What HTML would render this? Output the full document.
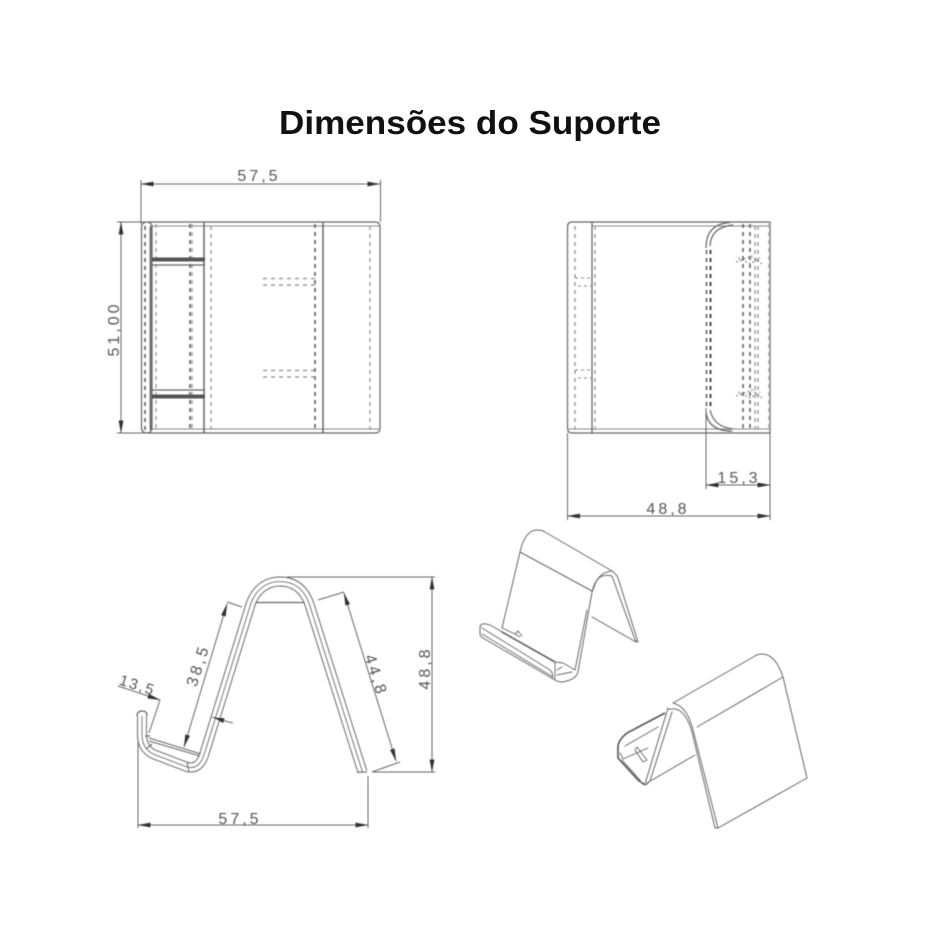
<!DOCTYPE html>
<html><head><meta charset="utf-8"><style>
html,body{margin:0;padding:0;background:#fff;width:940px;height:940px;overflow:hidden}
svg{display:block}
text{font-family:"Liberation Sans",sans-serif;fill:#555;font-size:16px;letter-spacing:3px;text-anchor:middle}
.s{fill:none;stroke:#666;stroke-width:1.2}
.t{fill:none;stroke:#888;stroke-width:.9}
.d{fill:none;stroke:#aaa;stroke-width:1.7;stroke-dasharray:4 4}
.k{fill:none;stroke:#666;stroke-width:1.7;stroke-dasharray:4 4}
.m{fill:none;stroke:#666;stroke-width:1}
.a{marker-start:url(#ar);marker-end:url(#ar)}
.e{marker-end:url(#ar)}
.i{fill:none;stroke:#666;stroke-width:1;stroke-linejoin:round;stroke-linecap:round}
</style></head><body>
<svg width="940" height="940" viewBox="0 0 940 940" xmlns="http://www.w3.org/2000/svg">
<defs>
<marker id="ar" viewBox="0 0 13 6" refX="12.500" refY="3" markerWidth="13" markerHeight="6" markerUnits="userSpaceOnUse" orient="auto-start-reverse"><path d="M13 3L0 0.6V5.4Z" fill="#333"/></marker>
<filter id="b" filterUnits="userSpaceOnUse" x="0" y="0" width="940" height="940"><feGaussianBlur stdDeviation="0.4"/></filter>
</defs>
<text x="470" y="134" textLength="382" lengthAdjust="spacingAndGlyphs" style="font-size:33px;font-weight:bold;fill:#111;letter-spacing:0">Dimensões do Suporte</text>
<g filter="url(#b)">
<!-- Top-left view -->
<path class="m a" d="M141 184H380"/>
<path class="m" d="M141 180V224M380.500 180V222M117 222H145M117 433H145"/>
<path class="m a" d="M121 222V433"/>
<text x="259" y="181">57,5</text>
<text transform="translate(119 329) rotate(-90)">51,00</text>
<path class="s" d="M148 222H375Q380 222 380 227V428Q380 433 375 433H148"/>
<path class="t" d="M152 226H380M152 429H380"/>
<rect class="s" x="141.500" y="222" width="10.500" height="211" rx="5"/>
<path class="s" d="M150.500 226V430" style="stroke-width:1.8"/>
<path class="d" d="M156 224V432M192 224V432M211 226V430M370 226V430"/>
<path class="k" d="M145 226V430M190 224V432M315 224V432"/>
<path class="s" d="M204 222V433M323 222V433" style="stroke-width:1.5"/>
<path class="s" d="M152 265H205M152 390H205"/>
<path d="M152 259.500H205M152 396.500H205" style="stroke:#555;stroke-width:4;fill:none"/>
<path class="d" d="M263 278.500H315M263 285H315M263 370.500H315M263 377H315" style="stroke:#888;stroke-width:1.2"/>

<!-- Top-right view -->
<path class="s" d="M572 222H770V433H572Q567.500 433 567.500 428V227Q567.500 222 572 222Z"/>
<path class="t" d="M592 226H770M567 429H770"/>
<path class="s" d="M592 222V433" style="stroke-width:1.3"/>
<path class="d" d="M575 226V430M595 226V430M769 224V432M755 226V430M758 226V430"/>
<path class="k" d="M706.500 250V408M743 224V432M750 224V432"/>
<path class="k" d="M710.500 250V408" style="stroke:#444;stroke-width:2"/>
<path class="s" d="M706 248Q706 224 730 222.500M710 246Q711 227 733 225M706 412Q708 431 732 431M710 410Q714 427 733 429"/>
<path class="d" d="M736 262L752 256L762 264M738 258L750 264L760 258M736 396L752 390L762 398M738 392L750 398L760 392" style="stroke:#777;stroke-width:1;stroke-dasharray:2 2"/>
<path class="d" d="M575 278H592M578 286H592M575 370H592M578 378H592" style="stroke:#888;stroke-width:.9;stroke-dasharray:3 3"/>
<path class="m" d="M567.500 433V520M770 433V520M706 408V489"/>
<path class="m a" d="M706 485H770"/>
<path class="m a" d="M567.500 516H770"/>
<text x="739" y="483">15,3</text>
<text x="668" y="514">48,8</text>

<!-- Profile view -->
<g fill="none" stroke-linejoin="round" stroke-linecap="butt">
<path d="M362.500 772L309 603C304 590 295 581.500 280 581.500C266 581.500 256 590 251 603L204 755Q199 770 187 767L153 754Q142 748 142 735V716" stroke="#666" stroke-width="10"/>
<path d="M362.500 772L309 603C304 590 295 581.500 280 581.500C266 581.500 256 590 251 603L204 755Q199 770 187 767L153 754Q142 748 142 735V716" stroke="#fff" stroke-width="7.800"/>
<path d="M362.500 772L309 603C304 590 295 581.500 280 581.500C266 581.500 256 590 251 603L204 755Q199 770 187 767L153 754Q142 748 142 735V716" stroke="#666" stroke-width="1.100"/>
</g>
<path class="s" d="M137 716Q137 711 142.500 711Q147 711 147 716"/>
<path class="s" d="M358 772H367"/>
<path class="s" d="M149 738L201 754M149 741L200 756" style="stroke-width:1"/>
<path class="s" d="M145 736H150M187 762L189 772M146 749L152 744"/>
<path class="s" d="M255 602.500H305"/>
<path class="m a" d="M227 604L184 747"/>
<path class="m" d="M227 602L242 607"/>
<path class="m a" d="M344 593L396 761"/>
<path class="m" d="M318 600L344 592M372 772L400 762"/>
<path class="m e" d="M118 686L160 700"/>
<path class="m" d="M160 700L149 733"/>
<path class="m" d="M221 720L233 723"/>
<path class="m e" d="M225 721L212 717"/>
<path class="m a" d="M432 577V772"/>
<path class="m" d="M287 577H435M372 772H435"/>
<path class="m" d="M138 737V828M368 776V828"/>
<path class="m a" d="M138 825H368"/>
<text x="240" y="824">57,5</text>
<text transform="translate(430 668) rotate(-90)">48,8</text>
<text transform="translate(203 667) rotate(-72)">38,5</text>
<text transform="translate(371 677) rotate(72)">44,8</text>
<text transform="translate(136 690) rotate(18)" style="font-size:15px;letter-spacing:2px">13,5</text>

<!-- Iso 1 -->
<path class="i" d="M502 628L520 552C523 538 529 530 537 530C540 530 542 530 545 532L612 571Q617 575 618 578L638 642L635.500 641L612 576Q606 574 600 577Q594 582 592 592L578 672Q576 678 570 680L563 682Q558 682 555 680L483 638Q480 636 480 634V627Q481 623 486 624L490 625L555 662"/>
<path class="i" d="M520 552L592 591M592 617L636 642M612 571Q601 572 596 582L592 592M575 670L587 610"/>
<path class="i" d="M482 628L550 670Q554 674 552 678M482 634L553 677M555 662L563 663L575 670M557 670L562 667M557 675L572 672M555 662V680M502 628L515 634L520 637M515 634L518 631L522 636" style="stroke-width:.9"/>
<path class="s" d="M502 632L555 662" style="stroke-width:1.7"/>
<!-- Iso 2 -->
<path class="i" d="M807 778L783 677C778 662 771 654 762 654Q758 654 755 656L673 703C685 706 690 718 693 730L718 828H715L692 732C688 718 682 708 672 709C669 709 668 710 668 708L645 784"/>
<path class="i" d="M718 828L807 778M697 727L783 677M647 783L695 755M672 712L650 781M646 785L650 781"/>
<path class="s" d="M665 713L627 733C622 737 618 742 618 747V758L638 780L645 785" style="stroke-width:1.6;stroke:#555"/>
<path class="i" d="M622 760L640 780M625 746L658 727M620 753L623 759L648 748M637 747L647 760L643 762L635 750Z" style="stroke-width:.9"/>
</g>
</svg>
</body></html>
